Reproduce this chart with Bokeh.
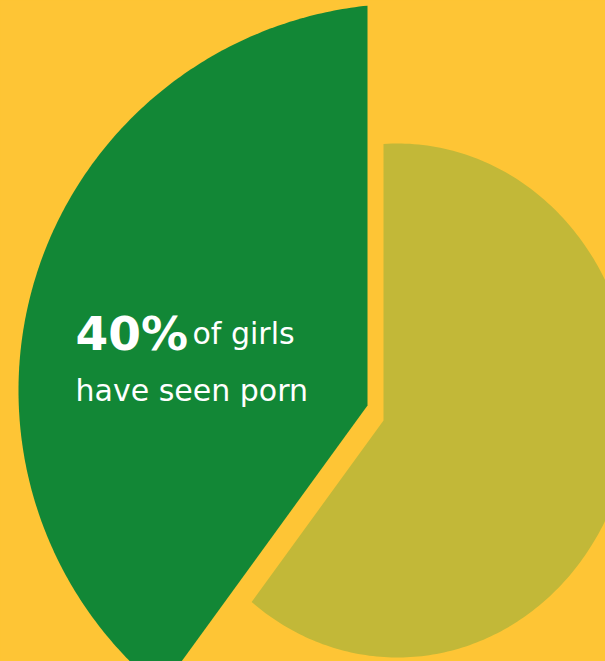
import numpy as np
from bokeh.plotting import figure
from bokeh.models import Range1d, ColumnDataSource
from bokeh.core.properties import value
from bokeh.embed import file_html
from bokeh.resources import INLINE

# ---------------- data ----------------
categories = ["Have not seen porn", "Have seen porn"]
shares = [60, 40]                       # percent, clockwise from 12 o'clock
slice_colors = ["#C2B838", "#128736"]
headline_rest = "of girls"
headline_line2 = "have seen porn"

# ---------------- style / layout (screen px, y grows downward) ----------------
BG = "#FEC535"
W, H = 605, 661
vertices = [(383, 420), (367, 405)]          # tip of each (separated) slice
arc_centers = [(397, 400), (408, 390)]       # centre of each slice's outer arc
arc_radii = [(235, 257), (390, 387)]         # (rx, ry) of each slice's outer arc


def ray_hit(v, d, c, r):
    """distance from v along unit d to the ellipse (c, r)"""
    px, py = (v[0] - c[0]) / r[0], (v[1] - c[1]) / r[1]
    qx, qy = d[0] / r[0], d[1] / r[1]
    A = qx * qx + qy * qy
    B = 2 * (px * qx + py * qy)
    C = px * px + py * py - 1
    return (-B + np.sqrt(B * B - 4 * A * C)) / (2 * A)


total = float(sum(shares))
edges = np.concatenate([[0.0], np.cumsum(shares)]) / total * 360.0

xs, ys = [], []
for i in range(len(shares)):
    phis = np.radians(np.linspace(edges[i], edges[i + 1], 240))
    v = vertices[i]
    px, py = [v[0]], [v[1]]
    for ph in phis:
        d = (np.sin(ph), -np.cos(ph))
        t = ray_hit(v, d, arc_centers[i], arc_radii[i])
        px.append(v[0] + t * d[0])
        py.append(v[1] + t * d[1])
    xs.append(px)
    ys.append(py)

src = ColumnDataSource(dict(xs=xs, ys=ys, color=slice_colors, name=categories))

p = figure(width=W, height=H,
           x_range=Range1d(0, W), y_range=Range1d(H, 0),
           output_backend="svg", toolbar_location=None,
           x_axis_location=None, y_axis_location=None,
           min_border=0, background_fill_color=BG, border_fill_color=BG,
           outline_line_color=None)
p.grid.grid_line_color = None

p.patches("xs", "ys", source=src, fill_color="color", line_color=None)

pct_text = f"{shares[1]}%"
p.text(x=[75], y=[333], text=[pct_text], text_color="white",
       text_font=value("DejaVu Sans"), text_font_size="47px",
       text_font_style="bold", text_baseline="alphabetic", text_align="left")
p.text(x=[192], y=[333], text=[headline_rest], text_color="white",
       text_font=value("DejaVu Sans"), text_font_size="30px",
       text_baseline="alphabetic", text_align="left")
p.text(x=[75], y=[390], text=[headline_line2], text_color="white",
       text_font=value("DejaVu Sans"), text_font_size="30px",
       text_baseline="alphabetic", text_align="left")

TEMPLATE = """
{% block preamble %}
<style>html, body { background-color: """ + BG + """; margin: 0; }</style>
{% endblock %}
"""

open("out.html", "w").write(file_html(p, INLINE, template=TEMPLATE))
